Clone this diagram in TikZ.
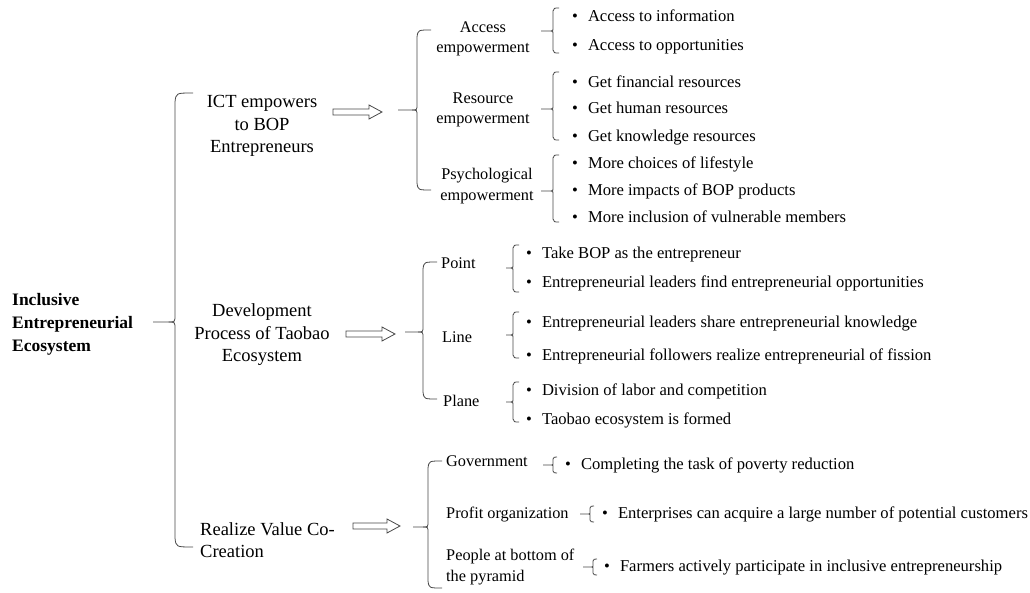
\documentclass[tikz,border=0pt]{standalone}
\usepackage{fontspec}
\setmainfont{Liberation Serif}
\newcommand\brc[6]{%
  \draw[brk] (#1+#6,#2) .. controls (#1+1,#2) .. (#1,#2+#6*0.5) -- (#1,#3-#6*0.4)
     .. controls (#1,#3) .. (#1-#6*0.35,#3) -- (#5,#3);
  \draw[brk] (#1-#6*0.35,#3) .. controls (#1,#3) .. (#1,#3+#6*0.4) -- (#1,#4-#6*0.5)
     .. controls (#1+1,#4) .. (#1+#6,#4);}
\newcommand\harr[3]{%
  \draw[brk,line join=miter] (#1,#3-3) -- (#2-13,#3-3) -- (#2-13,#3-7) -- (#2,#3) -- (#2-13,#3+7) -- (#2-13,#3+3) -- (#1,#3+3) -- cycle;}
\begin{document}
\begin{tikzpicture}[x=1pt,y=-1pt,
  brk/.style={draw=black!72,line width=0.8pt},
  root/.style={font=\bfseries\fontsize{17.5}{23}\selectfont,align=left,inner sep=0pt,anchor=west},
  lone/.style={font=\fontsize{18.5}{22.5}\selectfont,align=center,inner sep=0pt},
  ltwo/.style={font=\fontsize{16.3}{20.5}\selectfont,align=center,inner sep=0pt},
  item/.style={font=\fontsize{16.6}{19}\selectfont,anchor=base west,inner sep=0pt}]
\useasboundingbox (0,0) rectangle (1030,593);
\fill[white] (0,0) rectangle (1030,593);

% root
\node[root] (root) at (12,324) {Inclusive\\Entrepreneurial\\Ecosystem};
\brc{175}{93}{322}{547}{153}{18}

% level 1
\node[lone] (ict) at (262,126) {ICT empowers\\to BOP\\Entrepreneurs};
\node[lone] (dev) at (262,335) {Development\\Process of Taobao\\Ecosystem};
\node[lone,align=left,anchor=west] (rvc) at (200,540) {Realize Value Co-\\Creation};

\harr{333}{382}{112}
\harr{346}{395}{334}
\harr{353}{400}{526}

% ICT branch
\brc{417}{30}{110}{190}{398}{14}
\node[ltwo] (acc) at (483,39) {Access\\empowerment};
\node[ltwo] (res) at (483,110) {Resource\\empowerment};
\node[ltwo] (psy) at (487,186) {Psychological\\empowerment};

\brc{553}{8}{31}{53}{541}{6}
\brc{553}{72}{109}{140}{541}{6}
\brc{553}{155}{191}{222}{541}{6}

\node[item] (a1) at (572,22) {•\hspace{10pt}Access to information};
\node[item] (a2) at (572,51) {•\hspace{10pt}Access to opportunities};
\node[item] (r1) at (572,88) {•\hspace{10pt}Get financial resources};
\node[item] (r2) at (572,114) {•\hspace{10pt}Get human resources};
\node[item] (r3) at (572,142) {•\hspace{10pt}Get knowledge resources};
\node[item] (p1) at (572,169) {•\hspace{10pt}More choices of lifestyle};
\node[item] (p2) at (572,196) {•\hspace{10pt}More impacts of BOP products};
\node[item] (p3) at (572,223) {•\hspace{10pt}More inclusion of vulnerable members};

% Development branch
\brc{423}{262}{332}{399}{405}{14}
\node[ltwo,anchor=west] (pt) at (441,263) {Point};
\node[ltwo,anchor=west] (ln) at (442,337) {Line};
\node[ltwo,anchor=west] (pl) at (443,401) {Plane};

\brc{513}{245}{268}{292}{506}{6}
\brc{513}{312}{335}{358}{506}{6}
\brc{513}{382}{402}{422}{506}{6}

\node[item] (d1) at (526,259) {•\hspace{10pt}Take BOP as the entrepreneur};
\node[item] (d2) at (526,288) {•\hspace{10pt}Entrepreneurial leaders find entrepreneurial opportunities};
\node[item] (d3) at (526,327) {•\hspace{10pt}Entrepreneurial leaders share entrepreneurial knowledge};
\node[item] (d4) at (526,360) {•\hspace{10pt}Entrepreneurial followers realize entrepreneurial of fission};
\node[item] (d5) at (526,395) {•\hspace{10pt}Division of labor and competition};
\node[item] (d6) at (526,424) {•\hspace{10pt}Taobao ecosystem is formed};

% Realize branch
\brc{428}{461}{527}{588}{413}{14}
\node[item,font=\fontsize{16.3}{19}\selectfont] (gov) at (446,466) {Government};
\node[item,font=\fontsize{16.3}{19}\selectfont] (pro) at (446,518) {Profit organization};
\node[ltwo,align=left,anchor=west] (ppl) at (446,567) {People at bottom of\\the pyramid};

\brc{553}{457}{465}{473}{543}{4}
\brc{590}{506}{514}{522}{580}{4}
\brc{593}{559}{567}{575}{583}{4}

\node[item] (g1) at (565,469) {•\hspace{10pt}Completing the task of poverty reduction};
\node[item] (o1) at (602,518) {•\hspace{10pt}Enterprises can acquire a large number of potential customers};
\node[item] (f1) at (604,571) {•\hspace{10pt}Farmers actively participate in inclusive entrepreneurship};
\end{tikzpicture}
\end{document}
